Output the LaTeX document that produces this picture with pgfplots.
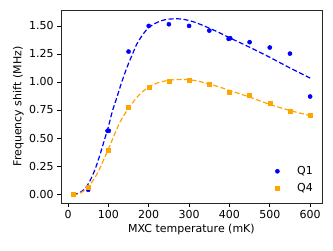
\documentclass[border=0pt]{standalone}
\usepackage{pgfplots}
\pgfplotsset{compat=1.18}
\usepackage{fontspec}
\setmainfont{DejaVu Sans}
\definecolor{mplorange}{RGB}{255,165,0}
\definecolor{mplblue}{RGB}{0,0,255}
\begin{document}
\fontsize{11}{13}\selectfont
\begin{tikzpicture}
\begin{axis}[
  at={(0,0)}, anchor=south west,
  scale only axis, width=261pt, height=193pt,
  xmin=-17.4, xmax=629.4, ymin=-0.08, ymax=1.642,
  xtick={0,100,200,300,400,500,600},
  ytick={0,0.25,0.5,0.75,1,1.25,1.5},
  yticklabel style={/pgf/number format/.cd,fixed,fixed zerofill,precision=2},
  /pgf/number format/assume math mode=true,
  tick align=outside, tick pos=left,
  major tick length=3.5pt,
  every tick/.style={black, line width=0.6pt},
  axis line style={black!85, line width=0.8pt},
  tick label style={font=\fontsize{11}{13}\selectfont},
  label style={font=\fontsize{11}{13}\selectfont},
  xlabel={MXC temperature (mK)},
  ylabel={Frequency shift (MHz)},
  xlabel style={yshift=2pt},
  ylabel style={yshift=-2pt},
  legend style={at={(0.985,0.03)}, anchor=south east, draw=none, fill=none,
    font=\fontsize{11}{13}\selectfont, row sep=3pt},
  legend cell align=left,
  legend image code/.code={\path (-0.1cm,0cm) (0.62cm,0cm); \draw[#1] plot coordinates {(0cm,0cm)};},
]
\addplot[only marks, mark=*, mark size=2.1pt, color=mplblue] coordinates {
(50,0.038) (98,0.564) (101,0.564) (150,1.271) (200,1.50) (250,1.515) (300,1.50)
(350,1.458) (398,1.385) (402,1.39) (450,1.355) (500,1.307) (550,1.253) (600,0.87)};
\addlegendentry{Q1}
\addplot[only marks, mark=square*, mark size=2.0pt, color=mplorange] coordinates {
(12,0.0) (50,0.059) (100,0.389) (150,0.778) (200,0.95) (250,1.004) (300,1.019)
(350,0.98) (400,0.909) (450,0.882) (500,0.814) (550,0.736) (600,0.707)};
\addlegendentry{Q4}
\addplot[smooth, dashed, dash pattern=on 5pt off 2.5pt, line width=1.2pt, color=mplblue, forget plot] coordinates {
(12,0.00) (25,0.005) (40,0.04) (50,0.09) (60,0.16) (70,0.25) (80,0.36) (90,0.48)
(100,0.60) (110,0.74) (120,0.85) (130,0.965) (140,1.07) (150,1.165) (160,1.25)
(170,1.335) (180,1.395) (190,1.445) (200,1.485) (220,1.53) (240,1.555) (260,1.563)
(280,1.562) (300,1.548) (320,1.525) (350,1.48) (375,1.44) (400,1.395) (450,1.31)
(500,1.22) (550,1.125) (600,1.035)};
\addplot[smooth, dashed, dash pattern=on 5pt off 2.5pt, line width=1.2pt, color=mplorange, forget plot] coordinates {
(12,-0.005) (25,0.0) (40,0.03) (50,0.065) (60,0.11) (75,0.2) (90,0.32) (100,0.40)
(115,0.53) (130,0.65) (150,0.765) (175,0.88) (200,0.955) (225,0.995) (250,1.015)
(275,1.022) (300,1.02) (325,1.005) (350,0.98) (375,0.955) (400,0.925) (450,0.865)
(500,0.80) (550,0.745) (600,0.70)};
\end{axis}
\path (-61pt,-47pt) rectangle (272pt,203pt);
\end{tikzpicture}
\end{document}
